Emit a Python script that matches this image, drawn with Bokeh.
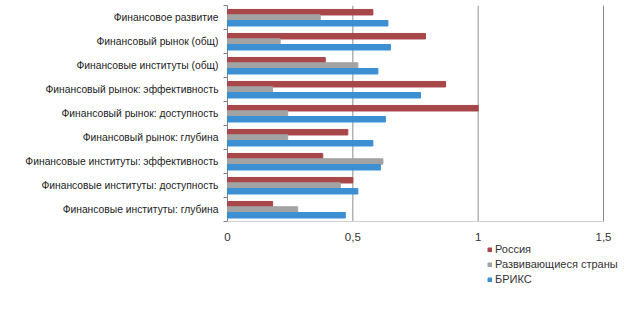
from bokeh.plotting import figure
from bokeh.models import ColumnDataSource, FixedTicker, Legend, LegendItem, Range1d
from bokeh.transform import dodge
from bokeh.embed import file_html
from bokeh.resources import INLINE

categories = [
    "Финансовое развитие",
    "Финансовый рынок (общ)",
    "Финансовые институты (общ)",
    "Финансовый рынок: эффективность",
    "Финансовый рынок: доступность",
    "Финансовый рынок: глубина",
    "Финансовые институты: эффективность",
    "Финансовые институты: доступность",
    "Финансовые институты: глубина",
]
russia = [0.58, 0.79, 0.39, 0.87, 1.0, 0.48, 0.38, 0.50, 0.18]
developing = [0.37, 0.21, 0.52, 0.18, 0.24, 0.24, 0.62, 0.45, 0.28]
brics = [0.64, 0.65, 0.60, 0.77, 0.63, 0.58, 0.61, 0.52, 0.47]
series_names = ["Россия", "Развивающиеся страны", "БРИКС"]
x_ticks = [0, 0.5, 1, 1.5]
x_tick_labels = ["0", "0,5", "1", "1,5"]

n = len(categories)
ypos = [n - 1 - i for i in range(n)]
src = ColumnDataSource(dict(y=ypos, cat=categories, russia=russia,
                            developing=developing, brics=brics))

FONT = "Liberation Sans"
colors = ["#A8474A", "#A3A3A3", "#3D8FD4"]

# frame: x 223..624 (value 0 at 227, 1.5 at 603), y 5..289 (9 rows in 5..221)
PX = 376 / 1.5
p = figure(width=624, height=312, output_backend="svg", toolbar_location=None,
           x_range=Range1d(-4 / PX, 397 / PX),
           y_range=Range1d(n - 0.5 - 284 / 24, n - 0.5),
           min_border_left=223, min_border_right=0, min_border_top=5,
           min_border_bottom=23)
p.outline_line_color = None
p.background_fill_color = "white"
p.border_fill_color = "white"
p.xgrid.grid_line_color = None
p.ygrid.grid_line_color = None

# vertical gridlines at the x ticks (except 0, which is the axis)
grid_x = x_ticks[1:]
p.segment(x0=grid_x, x1=grid_x, y0=-0.5, y1=n - 0.5, line_color="#8c8c8c",
          line_width=1)
# value axis line at x = 0
p.segment(x0=[0], x1=[0], y0=[-0.5], y1=[n - 0.5], line_color="#808080",
          line_width=1)

r1 = p.hbar(y=dodge("y", 0.22, range=p.y_range), right="russia", left=0,
            height=0.23, color=colors[0], source=src)
r2 = p.hbar(y=dodge("y", 0.0, range=p.y_range), right="developing", left=0,
            height=0.23, color=colors[1], source=src)
r3 = p.hbar(y=dodge("y", -0.24, range=p.y_range), right="brics", left=0,
            height=0.23, color=colors[2], source=src)

# x axis drawn at the bottom of the bars
p.xaxis.fixed_location = -0.5
p.xaxis.bounds = (x_ticks[0], x_ticks[-1])
p.xaxis.ticker = FixedTicker(ticks=x_ticks)
p.xaxis.major_label_overrides = {t: l for t, l in zip(x_ticks, x_tick_labels)}
p.xaxis.major_tick_out = 0
p.xaxis.major_tick_in = 0
p.xaxis.minor_tick_out = 0
p.xaxis.minor_tick_in = 0
p.xaxis.axis_line_color = "#d0d0d0"
p.xaxis.major_label_standoff = 11
p.xaxis.major_label_text_font = FONT
p.xaxis.major_label_text_font_size = "11.5px"
p.xaxis.major_label_text_color = "#333333"

# category axis (ticks at the category boundaries)
p.yaxis.bounds = (-0.5, n - 0.5)
p.yaxis.ticker = FixedTicker(ticks=ypos,
                             minor_ticks=[i - 0.5 for i in range(n + 1)])
p.yaxis.major_label_overrides = {y: c for y, c in zip(ypos, categories)}
p.yaxis.major_tick_out = 0
p.yaxis.major_tick_in = 0
p.yaxis.minor_tick_out = 0
p.yaxis.minor_tick_in = 4
p.yaxis.minor_tick_line_color = "#808080"
p.yaxis.axis_line_color = None
p.yaxis.major_label_standoff = 5
p.yaxis.major_label_text_font = FONT
p.yaxis.major_label_text_font_size = "10.3px"
p.yaxis.major_label_text_color = "#222222"

legend = Legend(items=[LegendItem(label=series_names[0], renderers=[r1]),
                       LegendItem(label=series_names[1], renderers=[r2]),
                       LegendItem(label=series_names[2], renderers=[r3])],
                location=(264, 3), orientation="vertical",
                background_fill_alpha=0, border_line_color=None,
                label_text_font=FONT, label_text_font_size="11px",
                label_text_color="#333333",
                glyph_width=5, glyph_height=5, label_standoff=3,
                label_height=14, spacing=1, padding=0, margin=0)
p.add_layout(legend, "center")

open("out.html", "w").write(file_html(p, INLINE))
